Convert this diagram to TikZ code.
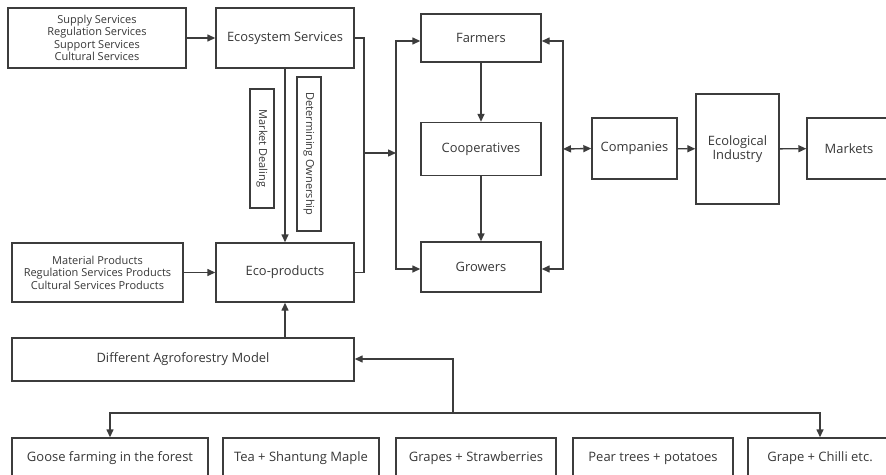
\documentclass[tikz,border=0pt]{standalone}
\usepackage{fontspec}
\setmainfont{Open Sans}
\usetikzlibrary{arrows.meta}
\definecolor{ln}{HTML}{3C3C3C}
\definecolor{tx}{HTML}{383838}
\tikzset{
  box/.style={draw=ln, line width=1.4pt, fill=white, inner sep=0pt, text=tx, align=center, font=\fontsize{12.9}{14.5}\selectfont},
  smallbox/.style={box, font=\fontsize{11}{12.5}\selectfont},
  botbox/.style={box, font=\fontsize{13}{14.5}\selectfont},
  conn/.style={draw=ln, line width=1.4pt},
  arr/.style={conn, -{Triangle[length=8pt,width=7pt]}},
  darr/.style={conn, {Triangle[length=8pt,width=7pt]}-{Triangle[length=8pt,width=7pt]}},
}
\begin{document}
\begin{tikzpicture}[x=1pt,y=-1pt]
\clip (0,0) rectangle (886,474);
\useasboundingbox (0,0) rectangle (886,474);
\fill[white] (0,0) rectangle (886,474);
% left column
\node[smallbox, minimum width=178, minimum height=60] (serv) at (97,38) {Supply Services\\Regulation Services\\Support Services\\Cultural Services};
\node[box, minimum width=138, minimum height=60] (eco) at (285,38) {Ecosystem Services};
\node[smallbox, minimum width=171, minimum height=59] (mat) at (97.5,272.5) {Material Products\\Regulation Services Products\\Cultural Services Products};
\node[box, minimum width=138, minimum height=59] (prod) at (285,272.5) {Eco-products};
\node[box, minimum width=342, minimum height=43] (agro) at (183,359.5) {Different Agroforestry Model};
\node[smallbox, minimum width=119, minimum height=24, rotate=-90] (md) at (262,148.5) {Market Dealing};
\node[smallbox, minimum width=154, minimum height=24, rotate=-90] (own) at (309,154) {Determining Ownership};
% middle
\node[box, minimum width=120, minimum height=48] (farm) at (481,38) {Farmers};
\node[box, minimum width=120, minimum height=53] (coop) at (481,149) {Cooperatives};
\node[box, minimum width=120, minimum height=50] (grow) at (481,267) {Growers};
\node[box, minimum width=85, minimum height=61] (comp) at (634.5,148.5) {Companies};
\node[box, minimum width=83, minimum height=110] (ind) at (737.5,149) {Ecological\\Industry};
\node[box, minimum width=84, minimum height=61] (mkt) at (849,148.5) {Markets};
% bottom
\node[botbox, minimum width=196, minimum height=40] (b1) at (110,458) {Goose farming in the forest};
\node[botbox, minimum width=156, minimum height=40] (b2) at (301,458) {Tea + Shantung Maple};
\node[botbox, minimum width=160, minimum height=40] (b3) at (476,458) {Grapes + Strawberries};
\node[botbox, minimum width=160, minimum height=40] (b4) at (653,458) {Pear trees + potatoes};
\node[botbox, minimum width=144, minimum height=40] (b5) at (820,458) {Grape + Chilli etc.};
% helper coordinates
\coordinate (ja) at (364,153);
\coordinate (jl) at (396,153);
\coordinate (jr) at (563,149);
\coordinate (jb) at (453,413);
% connectors
\draw[arr] (serv) -- (eco);
\draw[arr] (mat) -- (prod);
\draw[arr] (eco.south) -- (prod.north);
\draw[arr] (agro.north -| prod) -- (prod.south);
\draw[conn] (eco.east) -| (ja) |- (prod.east);
\draw[arr] (ja) -- (jl);
\draw[arr] (jl) |- ([yshift=-3pt]farm.west);
\draw[arr] (jl) |- ([yshift=-2pt]grow.west);
\draw[arr] (farm) -- (coop);
\draw[arr] (coop) -- (grow);
\draw[arr] (jr) |- ([yshift=-3pt]farm.east);
\draw[arr] (jr) |- ([yshift=-2pt]grow.east);
\draw[darr] (jr) -- (comp.west);
\draw[arr] (comp) -- (ind);
\draw[arr] (ind) -- (mkt);
\draw[arr] (jb) |- ([yshift=0.5pt]agro.east);
\draw[arr] (jb) -| (b1.north);
\draw[arr] (jb) -| (b5.north);
\end{tikzpicture}
\end{document}
